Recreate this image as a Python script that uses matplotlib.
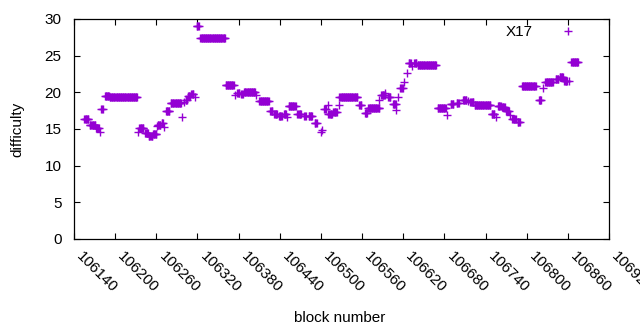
import numpy as np
import matplotlib
matplotlib.use("Agg")
import matplotlib.pyplot as plt

plt.rcParams['font.family'] = ['Liberation Sans', 'DejaVu Sans']

# Runs of consecutive X17 blocks sharing one difficulty (start block, end block, value)
run_start = [106155, 106163, 106172, 106178, 106180, 106185, 106192, 106233, 106235, 106244,
             106249, 106255, 106261, 106262, 106268, 106271, 106274, 106281, 106297, 106300,
             106303, 106306, 106311, 106316, 106319, 106324, 106361, 106375, 106378, 106384,
             106388, 106406, 106410, 106426, 106432, 106439, 106446, 106450, 106453, 106465,
             106467, 106476, 106482, 106491, 106500, 106501, 106505, 106510, 106511, 106518,
             106526, 106527, 106556, 106564, 106569, 106584, 106588, 106594, 106598, 106605,
             106610, 106613, 106616, 106621, 106625, 106628, 106633, 106636, 106641, 106670,
             106684, 106689, 106698, 106707, 106715, 106718, 106724, 106749, 106755, 106758,
             106764, 106770, 106776, 106779, 106787, 106793, 106818, 106824, 106827, 106842,
             106848, 106855, 106862, 106865]
run_end = [106161, 106171, 106176, 106178, 106182, 106191, 106232, 106233, 106241, 106248,
           106254, 106260, 106261, 106266, 106270, 106271, 106279, 106296, 106297, 106300,
           106305, 106309, 106314, 106316, 106322, 106360, 106373, 106375, 106381, 106386,
           106404, 106406, 106424, 106429, 106436, 106443, 106449, 106450, 106463, 106465,
           106471, 106478, 106487, 106494, 106500, 106501, 106507, 106510, 106516, 106523,
           106526, 106553, 106559, 106567, 106585, 106584, 106593, 106594, 106601, 106609,
           106610, 106613, 106619, 106621, 106625, 106631, 106633, 106639, 106668, 106682,
           106684, 106693, 106701, 106712, 106715, 106722, 106747, 106753, 106755, 106762,
           106768, 106774, 106776, 106784, 106790, 106813, 106821, 106824, 106838, 106846,
           106853, 106859, 106862, 106875]
run_value = [16.35, 15.6, 15.2, 14.6, 17.7, 19.45, 19.3, 14.6, 15.2, 14.4,
             14.05, 14.3, 15.4, 15.5, 15.8, 15.3, 17.5, 18.5, 16.6, 18.7,
             19.0, 19.5, 19.8, 19.3, 29.05, 27.4, 20.95, 19.6, 19.95, 19.75,
             20.05, 19.6, 18.8, 17.45, 17.1, 16.8, 17.1, 16.6, 18.1, 17.1,
             17.1, 16.8, 16.8, 15.8, 14.6, 14.9, 17.7, 18.3, 17.0, 17.3,
             18.3, 19.3, 18.3, 17.25, 17.8, 18.95, 19.6, 19.95, 19.3, 18.4,
             17.6, 19.3, 20.55, 21.45, 22.6, 23.95, 23.6, 23.95, 23.7, 17.8,
             16.9, 18.4, 18.5, 18.95, 18.8, 18.7, 18.3, 17.1, 16.7, 18.1,
             17.95, 17.45, 16.9, 16.3, 15.9, 20.9, 18.95, 20.55, 21.4, 21.8,
             22.15, 21.6, 21.55, 24.2]

xtick_values = [106140, 106200, 106260, 106320, 106380, 106440, 106500, 106560,
                106620, 106680, 106740, 106800, 106860, 106920]
ytick_values = [0, 5, 10, 15, 20, 25, 30]
series_label = "X17"
color = "#9400D3"

xs = []
ys = []
for s, e, v in zip(run_start, run_end, run_value):
    blocks = np.arange(s, e + 1)
    xs.append(blocks)
    ys.append(np.full(len(blocks), v))
x = np.concatenate(xs)
y = np.concatenate(ys)

fig = plt.figure(figsize=(6.4, 3.3), dpi=100)
ax = fig.add_axes([74 / 640, 91 / 330, 535 / 640, 220 / 330])
ax.plot(x, y, linestyle='none', marker='+', markersize=6.0, markeredgewidth=1.0,
        color=color, label=series_label)

ax.set_xlim(xtick_values[0], xtick_values[-1])
ax.set_ylim(ytick_values[0], ytick_values[-1])
ax.set_xticks(xtick_values)
ax.set_yticks(ytick_values)
ax.set_xticklabels([str(v) for v in xtick_values], rotation=-45, ha='left', va='top',
                   fontsize=11)
ax.set_yticklabels([str(v) for v in ytick_values], fontsize=11)
ax.tick_params(direction='in', length=4, width=0.8, top=True, right=True, color='black')
ax.tick_params(axis='y', pad=9)
ax.tick_params(axis='x', pad=7)
for sp in ax.spines.values():
    sp.set_linewidth(0.9)
    sp.set_color('black')

ax.set_ylabel("difficulty", fontsize=11)
ax.yaxis.set_label_coords(-0.092, 0.5)
ax.set_xlabel("block number", fontsize=11)
ax.xaxis.set_label_coords(0.497, -0.325)

leg = ax.legend(loc='center right', bbox_to_anchor=(588 / 640, 1 - 32.3 / 330),
                bbox_transform=fig.transFigure, frameon=False, markerfirst=False,
                fontsize=11, handletextpad=1.0, handlelength=2.6, borderpad=0,
                borderaxespad=0)

fig.savefig("out.png", dpi=100)
